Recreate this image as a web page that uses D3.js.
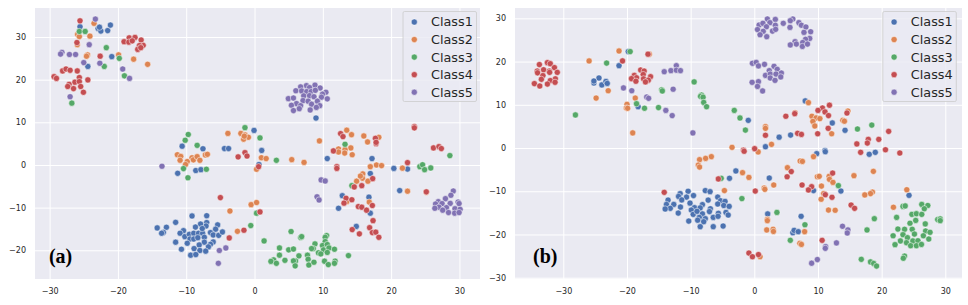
<!DOCTYPE html>
<html>
<head>
<meta charset="utf-8">
<script src="https://cdn.jsdelivr.net/npm/d3@7"></script>
<style>
	html, body { margin: 0; padding: 0; background: #fff; }
	svg { display: block; }
	text { font-family: "DejaVu Sans", sans-serif; }
</style>
</head>
<body>
<svg width="968" height="305"></svg>
<script>
var classNames = ["Class1", "Class2", "Class3", "Class4", "Class5"];
var classColors = ["#4c72b0", "#dd8452", "#55a868", "#c44e52", "#8172b3"];

var aTicksX = [-30, -20, -10, 0, 10, 20, 30];
var aTicksY = [-20, -10, 0, 10, 20, 30];
var bTicksX = [-30, -20, -10, 0, 10, 20, 30];
var bTicksY = [-30, -20, -10, 0, 10, 20, 30];

// panel (a)
var aClass1 = [[-25.55,32.4],[-22.9,32],[-22.5,31.4],[-21.5,31.5],[-21.1,32.8],[-22.7,32.3],[-20.9,25.4],[-24.4,23.1],[-0.07,8.1],[-10.6,4.4],[-7.55,3.8],[-4.4,3.85],[-3.8,3.85],[9,11],[1.05,3.4],[-11.25,-1.95],[-8.6,-1.3],[-7.85,-1.1],[0.65,0.1],[-7,-11.9],[-9.15,-11.95],[-11.55,-13.45],[-12.9,-14.6],[-14.25,-14.75],[-13.35,-15.8],[-13.6,-16],[-7,-13.5],[-7.1,-14.3],[-7.9,-13.85],[-8.65,-14.55],[-5.4,-14.05],[-5.7,-15.05],[-10.4,-15.4],[-10.9,-16],[-10.2,-16.8],[-9.55,-16.25],[-8.9,-16],[-8.2,-16],[-7.6,-16],[-7.65,-14.9],[-6.45,-15.85],[-6.05,-16.4],[-5.25,-16.5],[-4.7,-15.7],[-9.45,-17.35],[-8.9,-17.35],[-8.3,-17.05],[-7.35,-16.95],[-9.85,-18.35],[-11.55,-18.1],[-7.35,-18.1],[-8.1,-18.75],[-6.05,-18.05],[-6.45,-18.6],[-6.75,-19.2],[-8.85,-19.6],[-8,-20.05],[-7.15,-20.2],[-10.7,-19.75],[-9.35,-21.15],[-8.6,-21],[10.65,1.5],[17.2,1.5],[16.95,-2],[20.4,-0.8],[22.4,-0.95],[21.25,-6],[12.85,-7.2],[16.75,-7.55],[12.3,-10.15],[16.95,-11.3],[14.9,-14.4]];
var aClass2 = [[-23.5,33.2],[-25.9,30.6],[-25.65,30.1],[-24.1,30.2],[-25.95,28.2],[-24.45,25.8],[-24.6,25.5],[-19.9,25.8],[-17.7,24.8],[-15.65,23.6],[-3.9,7.4],[-2,7.4],[-1.4,7.05],[-1.6,6.05],[-0.9,6.5],[-1.5,6.75],[13.5,8.15],[14.2,7.1],[16,6.8],[18.2,6.5],[16.55,5.4],[9.5,5.65],[12.3,3.75],[14.1,4],[13.25,3.6],[-11.3,2.4],[-10.8,2],[-10.9,1.1],[-9.85,0.8],[-10.1,0.1],[-9.15,1.7],[-8.95,1.2],[-8.4,1.95],[-8,1.1],[-7.2,2.35],[-6.9,2.5],[0.3,-1],[-0.5,-9.3],[0.3,-8.8],[-3.6,-10.8],[-2.5,-15.55],[1,1.7],[1.7,1.5],[5.45,1.25],[7.25,0.6],[12.3,3.05],[13.2,2.8],[14.3,2.4],[16.95,-0.4],[17.85,0],[18.6,-0.15],[21.65,-0.75],[15.85,-2.1],[15.8,-3.1],[14.95,-3.8],[16.6,-3.8],[15.5,-2.6],[22.4,-6.15],[25.15,-6.4],[16.8,-8.7],[13.5,-8.6]];
var aClass3 = [[-25.65,31.3],[-24.8,31.3],[-21.7,27.5],[-19.8,25],[-22,23.1],[-19.05,20.9],[-26.75,14.5],[-9.7,7.15],[-10.15,5.8],[-8.4,4.6],[-1.4,8.75],[0.8,6.35],[13.25,4.85],[-10.4,-0.85],[-7.05,-1],[-9.75,-3],[-0.55,-14.2],[0.3,-11.3],[3.2,1.1],[28.6,2.2],[24.2,-0.4],[24.6,0.05],[24.9,-1.1],[25.8,-0.7],[14.25,-4.85],[5.35,-15.6],[6.75,-17],[6.9,-16.8],[1.4,-17.8],[10.55,-16.55],[10.35,-16.95],[10.35,-17.95],[8.85,-18.5],[9.95,-18.9],[10.65,-18.65],[8.6,-19.6],[8.35,-19.6],[10.1,-19.9],[10.9,-19.45],[11.7,-19.75],[10.65,-20.5],[9.35,-20.6],[9.7,-20.85],[13.75,-21.25],[3.65,-19.45],[5,-19.9],[5.7,-19.7],[3.65,-21.15],[6.5,-21.3],[7.75,-21.15],[7.85,-22.1],[4.45,-22.35],[2.8,-22.25],[2.4,-22.6],[3.2,-23.05],[6,-22.5],[5.7,-22.5],[5.95,-23.65],[7.95,-23.45],[8.7,-22.8],[10.25,-22.55],[11.8,-22.55],[11.7,-23.05],[10.8,-23.35]];
var aClass4 = [[-25.55,33.8],[-18.35,29.8],[-17.5,29.9],[-19.1,28.9],[-18.4,28.8],[-17.9,29.1],[-16.6,29.3],[-16.3,28.05],[-16.85,28],[-17.1,27.1],[-16.65,27.5],[-26,28.7],[-22.6,25.5],[-28.1,22.05],[-27.6,22.5],[-27,22.2],[-25.95,22.05],[-29.35,20.7],[-29,20.3],[-25.65,20.5],[-24.4,19.95],[-26.3,19.4],[-25.65,19.55],[-27.15,18.9],[-27.35,18.4],[-25.45,18.4],[-26.5,17.9],[-25.05,17.05],[23.4,9],[23.4,8.7],[12.6,7.35],[12.95,6.65],[17.7,6.25],[17.8,5],[17.8,5.3],[26.2,4],[27,4.3],[27.35,3.85],[11.55,3.3],[-2.4,1.9],[-1.4,2.9],[-1.1,2.1],[0.6,-0.4],[-5,-7.65],[-1.55,-15.3],[-3.7,-17.1],[0.8,-11],[22.4,0.55],[12.05,-0.4],[12.05,-0.8],[17.3,-3.2],[15.7,-4.85],[14.6,-5.15],[25.15,-6.3],[13.4,-7.8],[14.25,-8.15],[13.1,-8.95],[15.2,-9.75],[15.7,-9.9],[16.4,-10.6],[17.25,-9.5],[17.35,-13.05],[16.85,-14.7],[14.3,-15.15],[15.35,-16.15],[17.25,-15.85],[17.75,-15.75],[18.2,-16.95]];
var aClass5 = [[-23.3,34.2],[-24.2,28.2],[-28.2,26.4],[-28.4,26],[-27.1,25.9],[-26.2,25.9],[-25,24],[-22.65,23.85],[-19.3,22.5],[-18.3,20.3],[-27,16],[-13.55,-0.3],[-5.15,-20.05],[-4.2,-19.45],[-5.3,-23.05],[9.75,-3.5],[10.35,-3.75],[9.15,-7.45],[9.45,-8.2],[29.1,-6.1],[28.75,-7.1],[27.95,-7.9],[26.9,-8.6],[26.5,-9.15],[27.45,-9.05],[28.65,-9],[29.8,-8.7],[29.95,-9.05],[28.1,-10],[27,-9.9],[26.4,-10.15],[27.55,-10.6],[28.4,-11.15],[29.35,-10.25],[29.3,-11.3],[30.1,-10.4],[29.95,-11.15],[7.6,18.6],[8.85,18.7],[6.75,18.3],[8.05,18.15],[9.6,18.05],[6.05,17.4],[6.9,17.35],[7.65,17.2],[8.3,17.2],[8.9,17.5],[10.45,17.05],[9.95,16.6],[7.2,16.2],[8.05,16.25],[8.7,16],[9.8,15.9],[10.65,15.5],[4.95,15.55],[5.7,15.7],[7.1,15.1],[7.85,14.95],[9.2,14.95],[6.15,14.4],[5.4,14],[6.75,13.9],[8.35,14.25],[9.55,13.9],[9.05,13.5],[6.55,13.2],[5.7,12.75],[8.15,12.9]];

// panel (b)
var bClass1 = [[-25.2,15.05],[-24.4,16.2],[-25.2,15.5],[-23.95,14.6],[-23.3,15.4],[-23.1,14.95],[-21.25,19.05],[-19.8,22.3],[-18.25,9.55],[-0.95,6.4],[3.9,2.5],[5.7,3],[1.75,0.3],[12.25,5.8],[14.25,4.1],[8,10.9],[11.1,-0.6],[-10.4,-10],[-9.55,-11],[-11.65,-10.55],[-11.9,-11.2],[-10.65,-11.35],[-11.4,-12],[-13.55,-12.05],[-13.8,-13.05],[-12.65,-13.05],[-13.2,-13.95],[-14,-14.1],[-11.6,-13.65],[-11.95,-15.05],[-10.1,-12.75],[-9.4,-13.8],[-9.9,-14.35],[-9.6,-15.35],[-10.3,-16.9],[-8.15,-13.1],[-8.5,-13.85],[-9,-14.65],[-8.15,-15.25],[-8.65,-16.05],[-7.7,-16.35],[-8.9,-16.7],[-7.95,-17.05],[-8.5,-18.2],[-6.45,-18.2],[-7.7,-9.85],[-6.95,-10.1],[-7.25,-12.05],[-6.9,-14.05],[-7.05,-14.7],[-6.45,-16.05],[-5.65,-15.1],[-5.7,-15.8],[-5.75,-11.35],[-5.3,-12.2],[-4.6,-12.35],[-5.75,-12.95],[-4.8,-13.3],[-3.95,-13.5],[-4.45,-14.9],[-4.1,-15.5],[-4.9,-18.05],[-3.9,-7],[-2.9,-5.3],[2.35,-6.95],[9.3,-9.85],[13.6,-9.95],[24.3,-10.95],[9.8,-1.3],[11.15,-0.85],[18.05,-1.45],[19,-1],[2.1,-15.25],[7.35,-15.8],[6.05,-19.6],[6.25,-19.05],[6.9,-19.35]];
var bClass2 = [[-25.95,20.15],[-21.25,22.45],[-22.95,13.25],[-24.85,11.55],[-18.7,11.55],[-20,10.1],[-20.1,9.25],[-19.9,9.2],[-19.1,3.5],[-16.5,21.7],[8.5,10.5],[-3.5,0.15],[2.7,0.85],[1.75,4.95],[1.75,4.55],[9.05,7.35],[9.7,6.95],[10.3,6.8],[9.2,6.15],[9.5,5.1],[12.15,3.3],[13.9,6.4],[14.15,6.2],[14.7,8.55],[6.4,8.15],[0.6,-0.9],[9.3,-2],[7.2,-3],[7.55,-3.1],[5.2,-4.55],[-1.85,-5.7],[-0.85,-6.8],[3.05,-8.55],[1.55,-9.25],[1.65,-9.55],[-4.7,-9.85],[9.9,-6.65],[10.2,-6.55],[11.75,-6.55],[11.8,-7.25],[12.35,-7.95],[10.55,-8.8],[10.5,-11.85],[10.9,-10.55],[15.65,-6.4],[18.7,-5.4],[23.95,-9.65],[18.55,-10.2],[18.25,-10.55],[17.35,-10.85],[21.85,-13.7],[11.65,-14.35],[12.7,-14.4],[2.05,-16.5],[2.05,-16.8],[1.95,-18.95],[2.95,-18.8],[3,-19.3],[7.9,-19.35],[7.15,-22.05],[7.4,-22.3],[0.9,-25.15],[-6.75,-2],[-7.65,-2.4],[-8.6,-2.7],[-8.8,-3.95],[-8.6,-4.4]];
var bClass3 = [[-28.1,7.65],[-23.2,19.65],[-19.5,22.3],[-18.5,10.25],[-17.25,9.2],[-15.05,9.35],[-14.55,13.45],[-14.45,13.2],[-9.45,15.3],[-8.3,12.25],[-8.45,11.95],[-8.05,11.75],[-7.95,10.55],[-7.5,9.55],[-3.15,8.7],[-2.25,6.95],[-1.4,4.15],[16.2,4.4],[18.45,5.3],[13.2,-8.7],[-1.95,-11.7],[3.55,-14.9],[7.95,-17.75],[5.65,-21.35],[18.85,-16.35],[17.7,-18.95],[16.8,-25.75],[18.25,-26.35],[18.75,-26.7],[19.2,-27.3],[-5.2,-7],[23.35,-13.5],[23.7,-13.4],[26.3,-13.05],[27.25,-13.3],[26.7,-14.05],[24.75,-15.35],[25.45,-15.2],[26.3,-15.35],[22.35,-16.05],[28.8,-16.55],[29.2,-16.4],[29.2,-16.8],[25.35,-16.75],[24.45,-17.4],[26.85,-17.55],[22.55,-18.75],[23.6,-18.8],[24.8,-18.8],[26.9,-19.2],[27.6,-19.5],[21.8,-20.3],[23.35,-20.05],[25.15,-19.9],[26.55,-20.3],[24.05,-20.75],[27.4,-21.05],[22.95,-21.5],[23.9,-21.9],[24.9,-21.5],[25.7,-21.45],[22.1,-22.35],[24.55,-22.6],[25.45,-22.6],[26.25,-22.3],[23.6,-25],[23.4,-25.5]];
var bClass4 = [[-33.76,19.3],[-32.5,19.75],[-32.05,19.5],[-31.4,18.6],[-34.1,17.8],[-33.1,18.1],[-32.2,17.8],[-30.95,17.5],[-34.05,17.4],[-32.15,17.5],[-33.2,16.75],[-33.45,15.9],[-31.25,16],[-32.05,15.6],[-32.5,14.8],[-31.3,15.2],[-34.55,14.9],[-33.7,14.35],[-20.7,20.15],[-16.7,21.7],[-17.85,18.05],[-17.3,17.8],[-18.85,16.8],[-17.45,17],[-18.5,16.25],[-19.3,16.05],[-16.3,16.5],[-17.4,16],[-16.65,15.7],[-18.6,15.45],[-17.1,15.3],[-14.15,-10.25],[-5.65,-7.15],[11.8,9.9],[10.7,9.25],[10,8.7],[11.1,8.35],[11.65,7.5],[14.55,8.1],[6.35,7.95],[4.95,7.35],[11.6,4.55],[9.95,3.3],[6.8,3.4],[7.4,3.15],[1.75,2.95],[21.1,3.85],[17.9,2],[19.55,2],[17.75,1.15],[16.1,0.95],[0.05,-0.15],[-1.7,-0.5],[20.6,-0.4],[16.7,-1],[22.85,-1.15],[-1.6,-0.75],[5.8,-5.45],[5.15,-6.65],[12.3,-5.8],[7.5,-8.55],[9,-8.95],[8.5,-9.7],[11.15,-10.8],[12.2,-11.4],[0.15,-9.95],[15.2,-13.2],[15.75,-13.95],[10.65,-21.35],[-0.85,-24.3],[-0.3,-25.15],[0.65,-24.65]];
var bClass5 = [[-14.15,17.65],[-13.1,17.9],[-12.25,19.05],[-12.25,18],[-11.6,17.9],[-12.75,13.6],[-20.55,13.9],[-19.25,13.25],[-16.9,11.8],[-16.6,11.5],[-13.9,8.7],[-12.9,7.5],[-9.65,3.5],[2.05,29.85],[3.3,29.75],[6.05,29.85],[5.65,29.45],[0.75,28.45],[1.35,28.85],[2.45,29],[3.3,28.4],[1.9,28.05],[0.5,27.4],[1.4,27],[2.85,27.05],[3.35,27.45],[0.9,26.2],[1.95,25.75],[4.55,28.85],[5.6,27.9],[7,29],[7.4,28.4],[8.1,28],[7.8,26.75],[8.85,26.9],[8.7,25.35],[8.05,25.15],[7.6,24.4],[6.4,24.6],[6.6,24.05],[5.65,23.85],[7.55,23.5],[8.35,24.05],[-0.3,19.6],[0.3,19.8],[0.65,19],[1.6,19.35],[3.1,18.9],[3.6,18.2],[2.35,17.9],[4.25,17.35],[1.75,16.8],[2.5,17.1],[3.4,17.1],[2.5,16.2],[3.25,15.65],[4.15,16.45],[-0.35,15.2],[0.65,15.35],[0.5,14.25],[1.3,13.2],[13.85,-18.1],[14.7,-18.95],[14.6,-19.65],[12.9,-21.95],[11.2,-22.8],[11.15,-23.2],[9.9,-25.8],[9,-26.65]];

function drawPanel(opt){
	var svg = d3.select("svg");
	var g = svg.append("g");

	var x = d3.scaleLinear().domain(opt.xDomain).range([opt.left, opt.right]);
	var y = d3.scaleLinear().domain(opt.yDomain).range([opt.bottom, opt.top]);

	g.append("rect")
		.attr("x", opt.left)
		.attr("y", opt.top)
		.attr("width", opt.right - opt.left)
		.attr("height", opt.bottom - opt.top)
		.attr("fill", "#eaeaf2");

	//the tick lines double as the white grid
	var xAxis = g.append("g")
		.attr("transform", "translate(0," + opt.bottom + ")")
		.call(d3.axisBottom(x).tickValues(opt.ticksX).tickSize(-(opt.bottom - opt.top)).tickPadding(9).tickFormat(d3.format("d")));
	var yAxis = g.append("g")
		.attr("transform", "translate(" + opt.left + ",0)")
		.call(d3.axisLeft(y).tickValues(opt.ticksY).tickSize(-(opt.right - opt.left)).tickPadding(9).tickFormat(d3.format("d")));

	[xAxis, yAxis].forEach(function(a){
		a.select(".domain").remove();
		a.selectAll("line").attr("stroke", "#fff").attr("stroke-width", 1);
		a.selectAll("text")
			.attr("fill", "#262626")
			.style("font-size", "8px")
			.style("font-family", '"DejaVu Sans", sans-serif');
	});

	opt.series.forEach(function(pts, i){
		g.append("g").selectAll("circle")
			.data(pts)
			.enter()
			.append("circle")
			.attr("cx", function(d){return x(d[0])})
			.attr("cy", function(d){return y(d[1])})
			.attr("r", 3.1)
			.attr("fill", classColors[i])
			.attr("stroke", "#fff")
			.attr("stroke-width", 0.5);
	});

	g.append("text")
		.attr("x", x(opt.labelAt[0]))
		.attr("y", y(opt.labelAt[1]))
		.style("font-family", '"Liberation Serif", serif')
		.style("font-weight", "bold")
		.style("font-size", "20px")
		.attr("fill", "#000")
		.text(opt.label);

	// legend
	var lx = opt.legendX, ly = 11;
	var legend = g.append("g").attr("transform", "translate(" + lx + "," + ly + ")");
	legend.append("rect")
		.attr("x", 0.5)
		.attr("y", 0.5)
		.attr("width", 73.5)
		.attr("height", 90)
		.attr("rx", 1.5)
		.attr("fill", "#eaeaf2")
		.attr("fill-opacity", 0.8)
		.attr("stroke", "#cccccc")
		.attr("stroke-width", 0.8);
	classNames.forEach(function(name, i){
		var cy = 11 + i * 17.55;
		legend.append("circle")
			.attr("cx", 11.8)
			.attr("cy", cy)
			.attr("r", 3.1)
			.attr("fill", classColors[i])
			.attr("stroke", "#fff")
			.attr("stroke-width", 0.5);
		legend.append("text")
			.attr("x", 28.5)
			.attr("y", cy + 4.4)
			.attr("fill", "#262626")
			.style("font-size", "12.8px")
			.text(name);
	});
}

drawPanel({
	left: 35, right: 480, top: 8, bottom: 279,
	xDomain: [-32.14, 33.01], yDomain: [-26.73, 36.8],
	ticksX: aTicksX, ticksY: aTicksY,
	series: [aClass1, aClass2, aClass3, aClass4, aClass5],
	label: "(a)", labelAt: [-30.1, -23],
	legendX: 402.5
});

drawPanel({
	left: 515, right: 962, top: 8, bottom: 279,
	xDomain: [-37.59, 32.62], yDomain: [-30.3, 32.39],
	ticksX: bTicksX, ticksY: bTicksY,
	series: [bClass1, bClass2, bClass3, bClass4, bClass5],
	label: "(b)", labelAt: [-34.76, -26.6],
	legendX: 882.3
});
</script>
</body>
</html>
